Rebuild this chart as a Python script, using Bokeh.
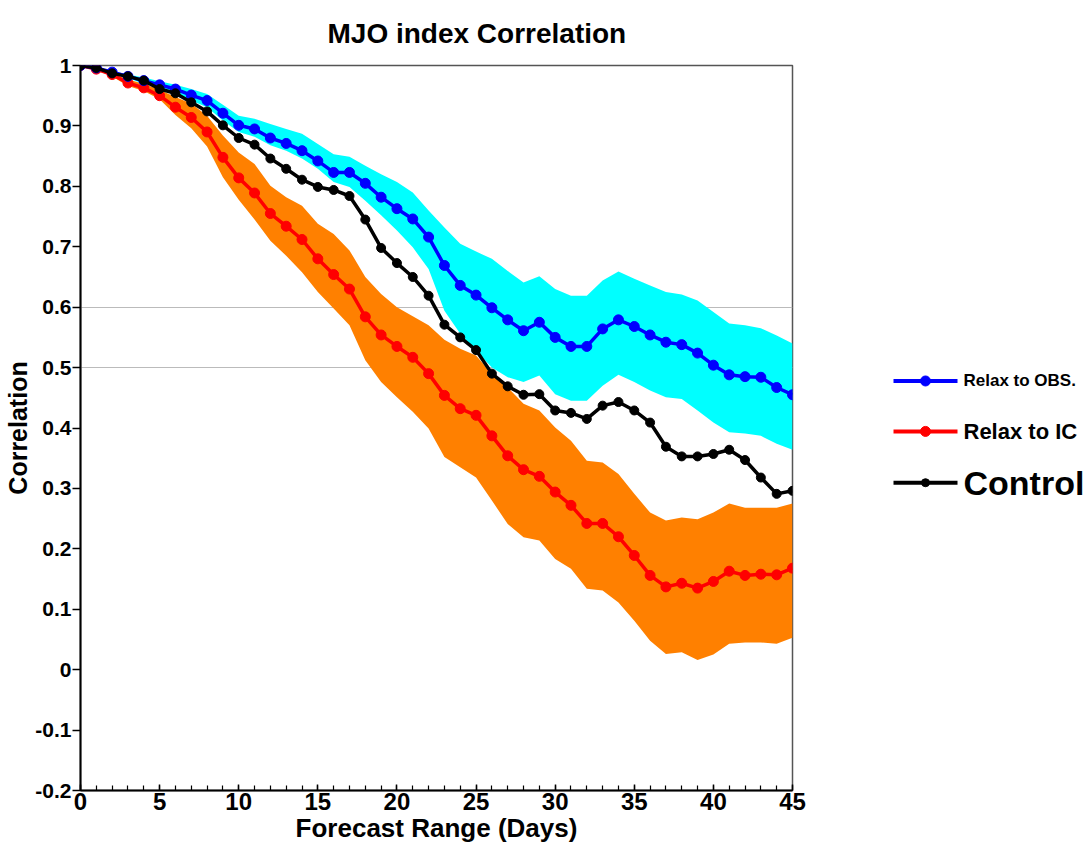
from bokeh.plotting import figure
from bokeh.layouts import row
from bokeh.models import FixedTicker, Range1d, Title
from bokeh.embed import file_html
from bokeh.resources import INLINE

# ---- data ----
days = list(range(46))
relax_obs = [1.000, 0.996, 0.989, 0.982, 0.975, 0.968, 0.961, 0.951, 0.942, 0.921,
             0.901, 0.895, 0.880, 0.871, 0.859, 0.842, 0.823, 0.823, 0.805, 0.782,
             0.763, 0.746, 0.716, 0.669, 0.636, 0.620, 0.599, 0.579, 0.561, 0.575,
             0.550, 0.535, 0.535, 0.564, 0.579, 0.568, 0.554, 0.542, 0.538, 0.524,
             0.504, 0.488, 0.485, 0.484, 0.467, 0.455]
relax_obs_hi = [1.000, 0.997, 0.991, 0.985, 0.980, 0.974, 0.968, 0.961, 0.953, 0.935,
                0.917, 0.912, 0.903, 0.895, 0.887, 0.870, 0.853, 0.849, 0.834, 0.820,
                0.807, 0.790, 0.760, 0.732, 0.705, 0.692, 0.680, 0.660, 0.641, 0.651,
                0.630, 0.619, 0.619, 0.644, 0.659, 0.647, 0.636, 0.625, 0.621, 0.611,
                0.592, 0.573, 0.570, 0.565, 0.553, 0.540]
relax_obs_lo = [1.000, 0.995, 0.987, 0.979, 0.970, 0.962, 0.954, 0.942, 0.931, 0.909,
                0.890, 0.882, 0.868, 0.859, 0.846, 0.829, 0.807, 0.799, 0.776, 0.752,
                0.727, 0.699, 0.663, 0.594, 0.556, 0.528, 0.500, 0.484, 0.476, 0.487,
                0.456, 0.445, 0.445, 0.470, 0.488, 0.476, 0.462, 0.451, 0.448, 0.429,
                0.409, 0.393, 0.391, 0.387, 0.374, 0.364]
relax_ic = [1.000, 0.994, 0.985, 0.971, 0.963, 0.950, 0.931, 0.914, 0.890, 0.848,
            0.814, 0.789, 0.755, 0.734, 0.712, 0.680, 0.654, 0.630, 0.584, 0.554,
            0.535, 0.517, 0.490, 0.454, 0.432, 0.421, 0.387, 0.354, 0.331, 0.320,
            0.294, 0.272, 0.242, 0.242, 0.220, 0.189, 0.156, 0.137, 0.143, 0.135,
            0.146, 0.163, 0.156, 0.158, 0.157, 0.168]
relax_ic_hi = [1.000, 0.995, 0.988, 0.977, 0.970, 0.960, 0.948, 0.937, 0.917, 0.884,
               0.856, 0.837, 0.801, 0.782, 0.768, 0.738, 0.721, 0.694, 0.650, 0.622,
               0.600, 0.585, 0.570, 0.546, 0.531, 0.520, 0.490, 0.467, 0.440, 0.429,
               0.401, 0.379, 0.346, 0.343, 0.324, 0.291, 0.260, 0.247, 0.252, 0.249,
               0.260, 0.275, 0.268, 0.268, 0.268, 0.275]
relax_ic_lo = [1.000, 0.993, 0.982, 0.966, 0.958, 0.944, 0.918, 0.896, 0.866, 0.815,
               0.778, 0.745, 0.710, 0.685, 0.658, 0.625, 0.598, 0.570, 0.512, 0.476,
               0.451, 0.427, 0.399, 0.352, 0.335, 0.318, 0.280, 0.241, 0.219, 0.214,
               0.183, 0.167, 0.134, 0.131, 0.111, 0.081, 0.048, 0.026, 0.029, 0.016,
               0.025, 0.043, 0.045, 0.045, 0.043, 0.053]
control = [1.000, 0.996, 0.987, 0.982, 0.975, 0.961, 0.954, 0.939, 0.924, 0.901,
           0.880, 0.869, 0.846, 0.829, 0.811, 0.799, 0.794, 0.784, 0.745, 0.698,
           0.673, 0.650, 0.619, 0.571, 0.550, 0.529, 0.490, 0.469, 0.455, 0.456,
           0.429, 0.425, 0.415, 0.437, 0.443, 0.429, 0.409, 0.369, 0.353, 0.353,
           0.357, 0.364, 0.347, 0.318, 0.291, 0.296]

series_names = ["Relax to OBS.", "Relax to IC", "Control"]
y_ticks = [-0.2, -0.1, 0, 0.1, 0.2, 0.3, 0.4, 0.5, 0.6, 0.7, 0.8, 0.9, 1]
x_ticks = [0, 5, 10, 15, 20, 25, 30, 35, 40, 45]
grid_lines = [0.5, 0.6]

FONT = "Liberation Sans"

p = figure(width=820, height=848, x_range=Range1d(0, 45), y_range=Range1d(-0.2, 1.0),
           output_backend="svg", toolbar_location=None,
           min_border_left=80, min_border_right=28, min_border_top=65, min_border_bottom=58)
p.title = Title(text="MJO index Correlation", text_font=FONT, text_font_size="28px",
                text_font_style="bold", text_color="black", align="left", offset=247,
                standoff=30, vertical_align="top")
p.outline_line_color = "#555555"
p.outline_line_width = 1.5
p.background_fill_color = "white"
p.border_fill_color = "white"

p.xgrid.visible = False
p.ygrid.ticker = FixedTicker(ticks=grid_lines)
p.ygrid.grid_line_color = "#bbbbbb"
p.ygrid.grid_line_width = 1.2

# axes
p.xaxis.ticker = FixedTicker(ticks=x_ticks, minor_ticks=days)
p.xaxis.axis_label = "Forecast Range (Days)"
p.xaxis.major_tick_in = 6
p.xaxis.major_tick_out = 0
p.xaxis.minor_tick_in = 5
p.xaxis.minor_tick_out = 0
p.xaxis.major_label_standoff = 2
p.xaxis.axis_label_standoff = 0

p.yaxis.ticker = FixedTicker(ticks=y_ticks)
p.yaxis.major_label_overrides = {-0.2: "-0.2", -0.1: "-0.1", 0: "0", 1: "1"}
p.yaxis.axis_label = "Correlation"
p.yaxis.major_tick_in = 0
p.yaxis.major_tick_out = 8
p.yaxis.minor_tick_line_color = None
p.yaxis.major_label_standoff = 1
p.yaxis.axis_label_standoff = 0

for ax in (p.xaxis, p.yaxis):
    ax.axis_line_color = "black"
    ax.axis_line_width = 2
    ax.major_tick_line_color = "black"
    ax.major_tick_line_width = 1.5
    ax.minor_tick_line_width = 1.2
    ax.major_label_text_font = FONT
    ax.major_label_text_font_style = "bold"
    ax.major_label_text_color = "black"
    ax.axis_label_text_font = FONT
    ax.axis_label_text_font_style = "bold"
    ax.axis_label_text_color = "black"
p.xaxis.major_label_text_font_size = "24px"
p.yaxis.major_label_text_font_size = "21px"
p.xaxis.axis_label_text_font_size = "26px"
p.yaxis.axis_label_text_font_size = "25px"

# bands
p.varea(x=days, y1=relax_ic_lo, y2=relax_ic_hi, fill_color="#FF8000")
p.varea(x=days, y1=relax_obs_lo, y2=relax_obs_hi, fill_color="#00FFFF")

# lines
p.line(days, relax_ic, line_color="#FF0000", line_width=3.5)
p.scatter(days, relax_ic, size=10, fill_color="#FF0000", line_color="#FF0000")
p.line(days, relax_obs, line_color="#0000FF", line_width=3.5)
p.scatter(days, relax_obs, size=10, fill_color="#0000FF", line_color="#0000FF")
p.line(days, control, line_color="black", line_width=3.5)
p.scatter(days, control, size=9, fill_color="black", line_color="black")

# legend panel (pixel coordinates)
leg = figure(width=271, height=848, x_range=Range1d(0, 271), y_range=Range1d(848, 0),
             output_backend="svg", toolbar_location=None,
             x_axis_location=None, y_axis_location=None,
             min_border=0, min_border_left=0, min_border_right=0,
             min_border_top=0, min_border_bottom=0)
leg.outline_line_color = None
leg.xgrid.visible = False
leg.ygrid.visible = False
leg_colors = ["#0000FF", "#FF0000", "black"]
leg_rows = [369, 428, 488]
leg_sizes = ["17px", "22px", "34px"]
leg_marker = [10, 10, 8]
for name, c, yy, fs, ms in zip(series_names, leg_colors, leg_rows, leg_sizes, leg_marker):
    leg.line([73, 137], [yy, yy], line_color=c, line_width=4)
    leg.scatter([105], [yy], size=ms, fill_color=c, line_color=c)
    leg.text([143], [yy], text=[name], text_font={"value": FONT}, text_font_style="bold",
             text_font_size=fs, text_baseline="middle", text_color="black")

layout = row(p, leg)
open("out.html", "w").write(file_html(layout, INLINE))
